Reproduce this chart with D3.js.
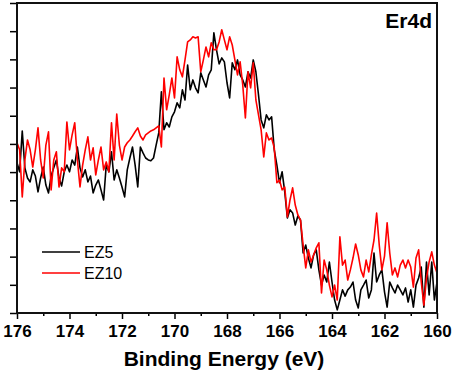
<!DOCTYPE html>
<html>
<head>
<meta charset="utf-8">
<script src="https://cdn.jsdelivr.net/npm/d3@7"></script>
<style>
  body { margin: 0; background: #fff; }
  svg text { font-family: Arial, "Liberation Sans", sans-serif; }
</style>
</head>
<body>
<div id="chart"></div>
<script>
// binding energy grid: 176 -> 160 eV, 0.1 eV step
const energyStart = 176;
const energyStep = -0.1;

// intensity (a.u.)
const ez5 = [533, 501, 646, 515, 479, 465, 508, 486, 430, 479, 518, 454, 426, 486, 515, 543, 479, 451, 501, 525,
  501, 543, 525, 589, 515, 483, 508, 465, 486, 426, 454, 472, 437, 401, 525, 501, 572, 472, 508, 479,
  447, 412, 508, 550, 589, 525, 447, 589, 568, 550, 543, 540, 550, 596, 639, 785, 650, 675, 660, 696,
  714, 746, 728, 792, 756, 880, 792, 827, 799, 781, 852, 827, 802, 845, 863, 994, 934, 884, 905, 891,
  817, 763, 888, 863, 898, 845, 827, 802, 856, 834, 898, 856, 774, 685, 657, 703, 685, 696, 579, 525,
  462, 501, 430, 337, 366, 355, 312, 344, 330, 213, 241, 195, 160, 206, 224, 153, 99, 135, 110, 181,
  110, 46, 11, 46, 82, 60, 82, 92, 110, 46, 18, 82, 99, 117, 53, 82, 213, 110, 135, 153,
  75, 21, 110, 89, 71, 99, 82, 64, 89, 39, 82, 21, 99, 124, 163, 21, 181, 64, 181, 46, 110];

const ez10 = [604, 579, 412, 543, 614, 579, 518, 579, 657, 543, 479, 596, 643, 437, 543, 572, 447, 515, 501, 678,
  579, 632, 675, 543, 447, 525, 579, 625, 543, 586, 490, 543, 589, 508, 536, 501, 675, 543, 706, 596,
  543, 589, 604, 614, 628, 643, 657, 628, 614, 632, 639, 646, 650, 657, 664, 589, 834, 721, 774, 834,
  763, 909, 863, 838, 898, 962, 969, 980, 976, 980, 856, 898, 944, 909, 959, 934, 934, 962, 1005, 969,
  934, 980, 951, 898, 845, 891, 809, 692, 856, 799, 888, 756, 703, 650, 554, 639, 614, 621, 586, 462,
  472, 437, 447, 341, 401, 444, 383, 348, 330, 241, 160, 224, 181, 206, 231, 249, 71, 188, 153, 99,
  57, 99, 46, 270, 170, 188, 117, 153, 195, 245, 206, 153, 128, 188, 146, 206, 259, 355, 241, 153,
  202, 320, 213, 135, 160, 128, 170, 188, 160, 188, 163, 92, 195, 224, 110, 28, 124, 181, 217, 170, 142];

const seriesNames = ['EZ5', 'EZ10'];
const seriesColors = ['#000000', '#ff0000'];
const xTicks = [176, 174, 172, 170, 168, 166, 164, 162, 160];
const xMinorTicks = [175, 173, 171, 169, 167, 165, 163, 161];
const yTicks = [0, 100, 200, 300, 400, 500, 600, 700, 800, 900, 1000, 1100];

const width = 454, height = 374;
const margin = { top: 3, right: 17, bottom: 61, left: 17 };
const w = width - margin.left - margin.right;
const h = height - margin.top - margin.bottom;

const svg = d3.select('#chart').append('svg')
  .attr('width', width)
  .attr('height', height);

const g = svg.append('g')
  .attr('transform', `translate(${margin.left},${margin.top})`);

const x = d3.scaleLinear().domain([176, 160]).range([0, w]);
const y = d3.scaleLinear().domain([0, 1100]).range([h, 0]);

const toPoints = vals => vals.map((v, i) => ({ e: energyStart + energyStep * i, v }));
const series = [toPoints(ez5), toPoints(ez10)];

const line = d3.line()
  .x(d => x(d.e))
  .y(d => y(d.v));

g.append('clipPath').attr('id', 'clip')
  .append('rect').attr('width', w).attr('height', h);

// black first, red on top
series.forEach((s, k) => {
  g.append('path')
    .datum(s)
    .attr('clip-path', 'url(#clip)')
    .attr('fill', 'none')
    .attr('stroke', seriesColors[k])
    .attr('stroke-width', 1.6)
    .attr('stroke-linejoin', 'round')
    .attr('d', line);
});

// minor x ticks
g.append('g')
  .attr('transform', `translate(0,${h})`)
  .call(d3.axisBottom(x).tickValues(xMinorTicks).tickSize(3).tickFormat(''))
  .call(a => a.select('.domain').remove())
  .selectAll('line').attr('stroke', '#000').attr('stroke-width', 1.5);

// major x ticks
const xAxis = g.append('g')
  .attr('transform', `translate(0,${h})`)
  .call(d3.axisBottom(x).tickValues(xTicks).tickSize(6).tickPadding(6).tickFormat(d3.format('d')));
xAxis.select('.domain').remove();
xAxis.selectAll('line').attr('stroke', '#000').attr('stroke-width', 1.5);
xAxis.selectAll('text')
  .attr('fill', '#000')
  .style('font-size', '17px')
  .style('font-weight', 'bold');

// y ticks without labels
const yAxis = g.append('g')
  .call(d3.axisLeft(y).tickValues(yTicks).tickSize(7).tickFormat(''));
yAxis.select('.domain').remove();
yAxis.selectAll('line').attr('stroke', '#000').attr('stroke-width', 1.5);

// frame
g.append('rect')
  .attr('width', w)
  .attr('height', h)
  .attr('fill', 'none')
  .attr('stroke', '#111')
  .attr('stroke-width', 2);

g.append('text')
  .attr('x', w / 2 - 3)
  .attr('y', h + 53)
  .attr('text-anchor', 'middle')
  .style('font-size', '21px')
  .style('font-weight', 'bold')
  .text('Binding Energy (eV)');

g.append('text')
  .attr('x', w - 5)
  .attr('y', 25)
  .attr('text-anchor', 'end')
  .style('font-size', '21px')
  .style('font-weight', 'bold')
  .text('Er4d');

// legend
const legend = g.append('g').attr('transform', 'translate(25,249)');
seriesNames.forEach((name, k) => {
  const row = legend.append('g').attr('transform', `translate(0,${k * 21})`);
  row.append('line')
    .attr('x1', 0).attr('x2', 38)
    .attr('stroke', seriesColors[k])
    .attr('stroke-width', 1.6);
  row.append('text')
    .attr('x', 42)
    .attr('y', 6)
    .style('font-size', '16px')
    .text(name);
});
</script>
</body>
</html>
